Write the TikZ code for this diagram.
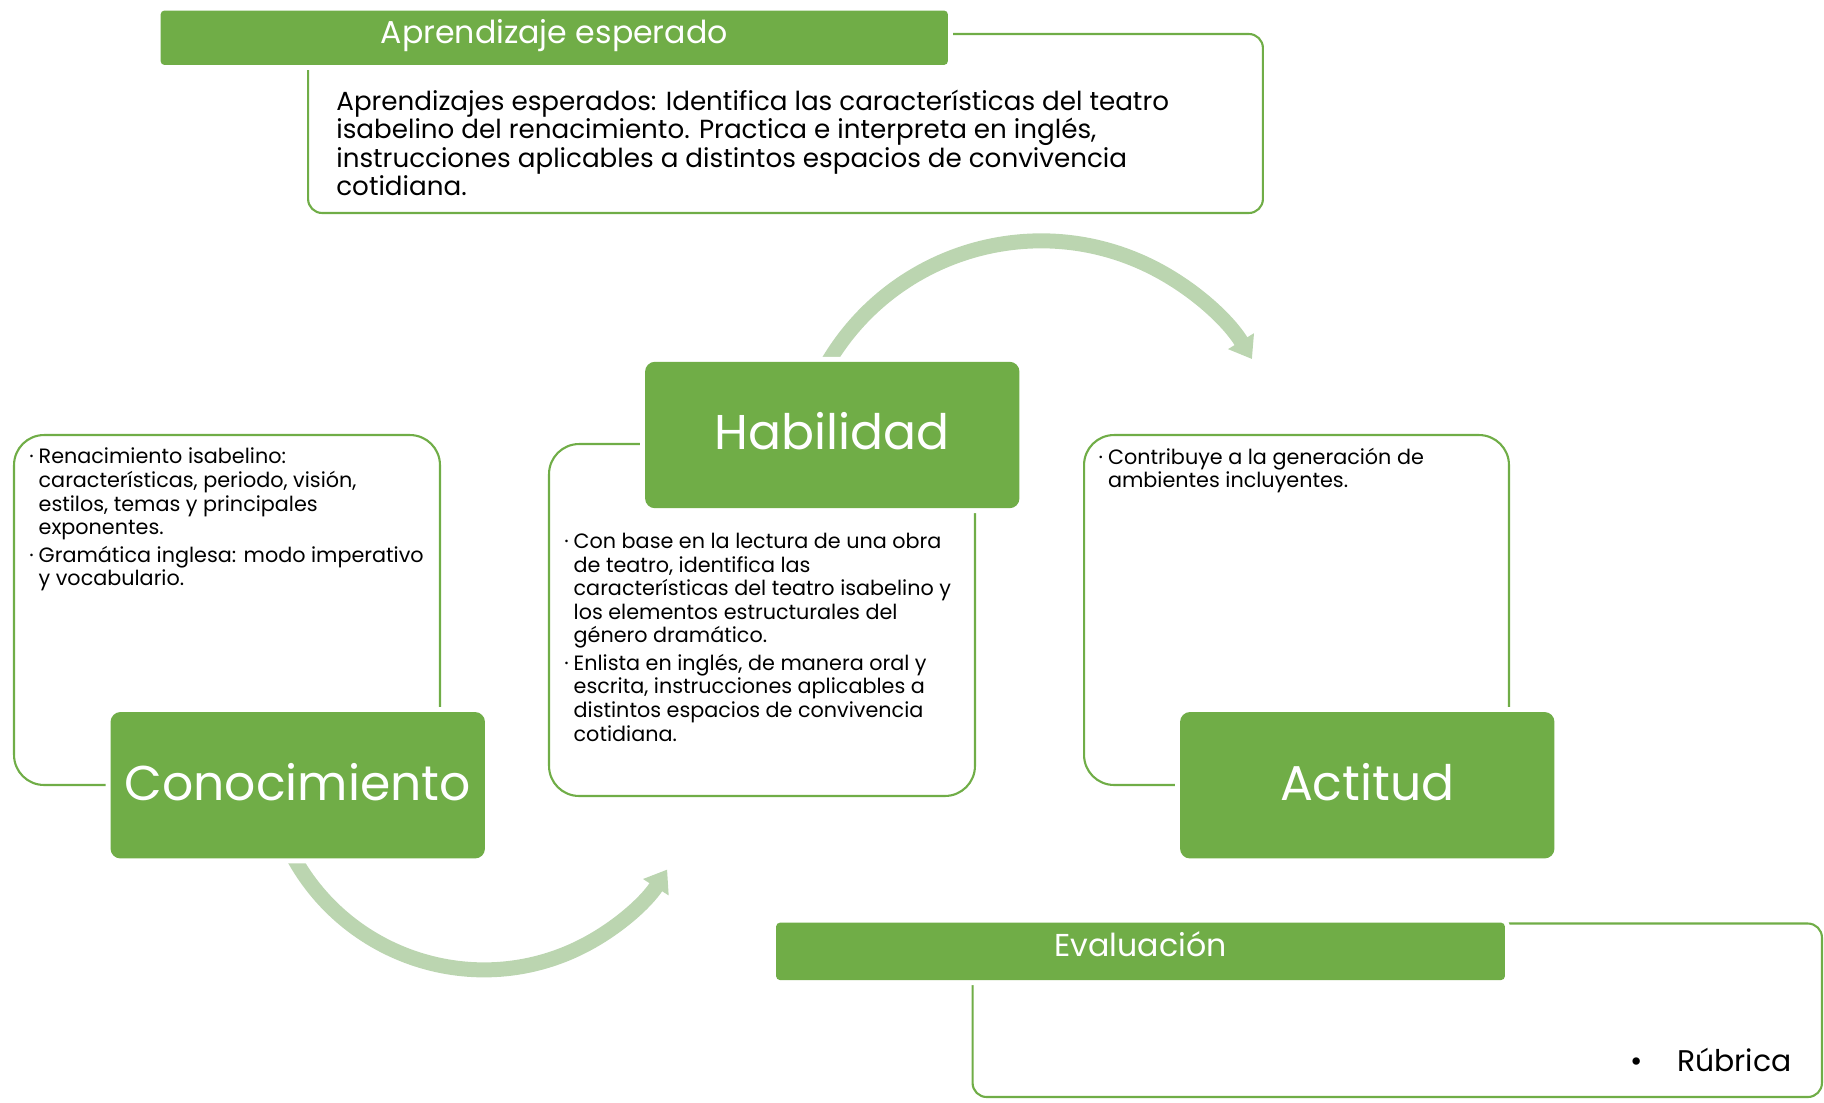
\documentclass[tikz,border=0pt]{standalone}
\usepackage{fontspec}
\setmainfont{Poppins}
\usetikzlibrary{arrows.meta}

\definecolor{leaf}{HTML}{70AD47}
\definecolor{sage}{HTML}{BBD5B0}
\newcommand\bul{\llap{\textperiodcentered\hspace{0.1cm}}}

\begin{document}
\begin{tikzpicture}[
        x=0.02cm, y=-0.02cm,
        txtbox/.style={rectangle, draw=leaf, line width=1.2pt, inner sep=0pt, rounded corners=0.6cm},
        greenbox/.style={rectangle, fill=leaf, text=white, inner sep=0pt, rounded corners=0.2cm,
          preaction={draw=white, line width=0.2cm}, minimum width=7.49cm, minimum height=2.93cm,
          text height=17pt, text depth=0pt, font=\fontsize{27.8}{30}\selectfont},
        headbar/.style={rectangle, fill=leaf, text=white, inner sep=0pt, rounded corners=0.08cm,
          preaction={draw=white, line width=0.2cm}, text height=9pt, text depth=2.7pt,
          font=\fontsize{18}{20}\selectfont},
        bullets/.style={anchor=base west, align=left, inner sep=0pt, font=\fontsize{11.8}{13.4}\selectfont},
        cycle/.style={draw=sage, line width=0.3cm, -{Triangle[length=0.42cm, width=0.58cm]}}
      ]
      \useasboundingbox (0,0) rectangle (1824,1102);

      % outlined boxes
      \node[txtbox, rounded corners=0.28cm, minimum width=19.1cm, minimum height=3.58cm] (aprbox) at (785.5,123.5) {};
      \node[txtbox, minimum width=8.52cm, minimum height=7cm] (conbox) at (227,610) {};
      \node[txtbox, minimum width=8.52cm, minimum height=7.04cm] (habbox) at (762,620) {};
      \node[txtbox, minimum width=8.5cm, minimum height=7cm] (actbox) at (1296.5,610) {};
      \node[txtbox, rounded corners=0.28cm, minimum width=16.99cm, minimum height=3.47cm] (evabox) at (1397.25,1010.25) {};

      % arrows of the cycle
      \coordinate (c1) at (290.2,851.1);
      \coordinate (c2) at (820.5,376);
      \draw[cycle] (c1) arc[start angle=207, end angle=327.4, radius=4.35cm];
      \draw[cycle] (c2) arc[start angle=153, end angle=31.5, radius=4.95cm];

      \node[greenbox] (con) at (297.75,785.25) {Conocimiento};
      \node[greenbox] (hab) at (832.25,435) {Habilidad};
      \node[greenbox] (act) at (1367.25,785.25) {Actitud};

      \node[headbar, minimum width=15.75cm, minimum height=1.09cm] (apr) at (554.25,37.75) {Aprendizaje esperado};
      \node[headbar, minimum width=14.58cm, minimum height=1.15cm] (eva) at (1140.5,951.35) {Evaluación};

      % texts (anchored at the last line)
      \node[anchor=base west, align=left, inner sep=0pt, font=\fontsize{14.9}{16.2}\selectfont] (aprtxt) at (336,195.5)
        {Aprendizajes esperados: Identifica las características del teatro\\
         isabelino del renacimiento. Practica e interpreta en inglés,\\
         instrucciones aplicables a distintos espacios de convivencia\\
         cotidiana.};
      \node[bullets] (contxt) at (38.3,585.7)
        {\bul Renacimiento isabelino:\\
         características, periodo, visión,\\
         estilos, temas y principales\\
         exponentes.\\[0.08cm]
         \bul Gramática inglesa: modo imperativo\\
         y vocabulario.};
      \node[bullets] (habtxt) at (573.3,741)
        {\bul Con base en la lectura de una obra\\
         de teatro, identifica las\\
         características del teatro isabelino y\\
         los elementos estructurales del\\
         género dramático.\\[0.08cm]
         \bul Enlista en inglés, de manera oral y\\
         escrita, instrucciones aplicables a\\
         distintos espacios de convivencia\\
         cotidiana.};
      \node[bullets] (acttxt) at (1107.7,487.6)
        {\bul Contribuye a la generación de\\
         ambientes incluyentes.};
      \node[anchor=base west, inner sep=0pt, font=\fontsize{17}{18}\selectfont] (evatxt) at (1677,1071.7)
        {\llap{\textbullet\hspace{0.7cm}}Rúbrica};
    \end{tikzpicture}
\end{document}
